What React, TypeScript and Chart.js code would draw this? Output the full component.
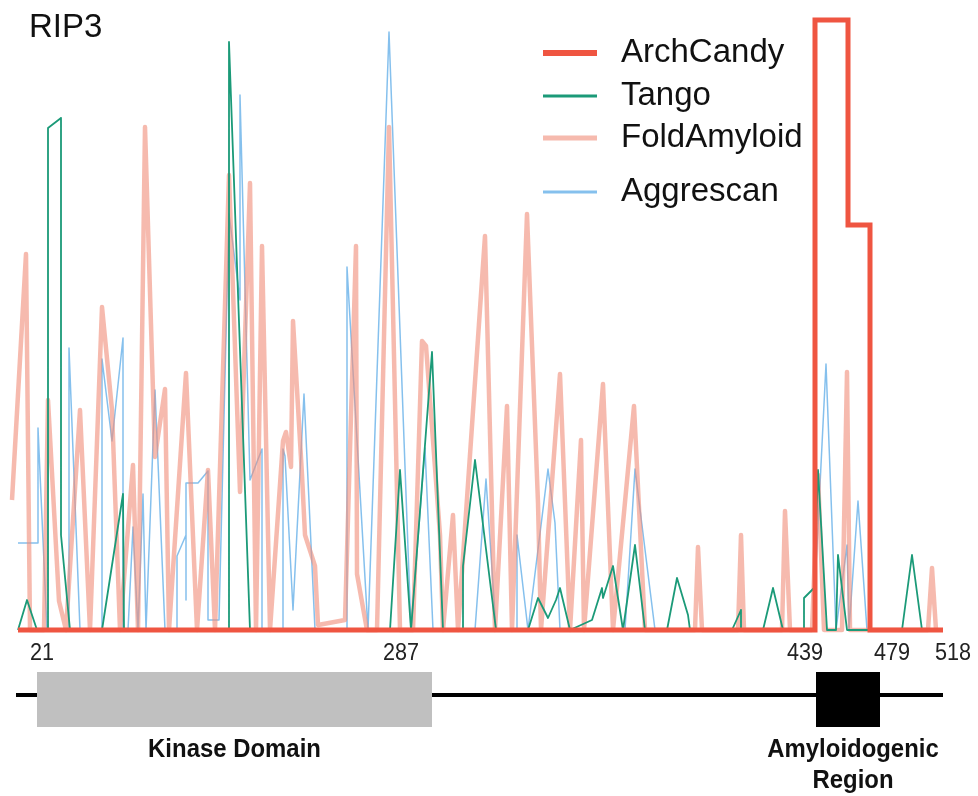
import React, { useEffect, useRef } from "react";
import { Chart, registerables } from "chart.js";

Chart.register(...registerables);

// ---- chart data (x = position along the sequence track, y = prediction score) ----
const PROTEIN = "RIP3";
const TICK_POS = [42, 401, 805, 892, 953];
const TICK_LABELS = ["21", "287", "439", "479", "518"];

const ARCH_POS = [18, 815, 815, 848, 848, 870, 870, 943];
const ARCH_SCORE = [0, 0, 610, 610, 405, 405, 0, 0];

const TANGO_POS = [18, 27, 37, 48, 48, 61, 61, 70, 102, 123, 124, 229, 229, 250, 390, 400, 411, 432, 443, 463, 463, 475, 496, 528, 538, 548, 556, 560, 570, 592, 602, 603, 613, 623, 635, 645, 667, 677, 688, 690, 732, 741, 741, 763, 773, 783, 804, 804, 814, 818, 827, 836, 838, 847, 902, 912, 922, 943];
const TANGO_SCORE = [0, 30, 0, 0, 502, 512, 95, 0, 0, 136, 0, 0, 588, 0, 0, 160, 0, 278, 0, 0, 64, 170, 0, 0, 32, 12, 30, 42, 0, 10, 42, 32, 64, 0, 85, 0, 0, 52, 15, 0, 0, 20, 0, 0, 42, 0, 0, 32, 42, 160, 0, 0, 75, 0, 0, 75, 0, 0];

const FOLD_POS = [12, 26, 30, 44, 48, 59, 66, 80, 90, 102, 112, 120, 133, 138, 145, 155, 165, 169, 186, 197, 208, 215, 229, 240, 250, 256, 262, 270, 283, 286, 291, 293, 302, 305, 315, 318, 345, 356, 357, 367, 377, 389, 400, 413, 422, 426, 440, 443, 453, 458, 485, 495, 507, 512, 527, 538, 541, 560, 570, 581, 584, 603, 613, 634, 645, 695, 698, 702, 738, 741, 744, 782, 785, 790, 812, 818, 824, 842, 847, 850, 928, 932, 936];
const FOLD_SCORE = [130, 376, 0, 0, 230, 29, 0, 220, 0, 323, 220, 0, 165, 0, 503, 173, 241, 0, 257, 0, 160, 0, 455, 138, 447, 0, 384, 0, 189, 198, 163, 309, 155, 95, 64, 5, 10, 384, 56, 0, 0, 503, 0, 0, 289, 284, 95, 0, 115, 0, 394, 0, 224, 0, 416, 127, 0, 256, 0, 190, 0, 246, 0, 224, 0, 0, 83, 0, 0, 95, 0, 0, 119, 0, 0, 155, 0, 0, 258, 0, 0, 62, 0];

const AGGR_POS = [18, 38, 38, 47, 69, 69, 80, 102, 102, 112, 123, 123, 128, 133, 138, 143, 146, 155, 165, 177, 177, 186, 186, 186, 198, 208, 208, 219, 229, 240, 240, 250, 262, 262, 283, 283, 285, 293, 304, 315, 347, 347, 368, 389, 411, 425, 433, 475, 486, 496, 517, 517, 528, 548, 555, 560, 625, 635, 655, 815, 815, 826, 836, 847, 849, 858, 867];
const AGGR_SCORE = [87, 87, 202, 0, 0, 282, 0, 0, 271, 189, 292, 0, 0, 103, 0, 136, 0, 240, 0, 0, 74, 95, 30, 147, 147, 159, 10, 10, 416, 330, 535, 150, 181, 0, 0, 181, 174, 20, 236, 0, 0, 363, 0, 598, 0, 182, 0, 0, 151, 0, 0, 95, 0, 161, 107, 0, 0, 161, 0, 0, 44, 266, 0, 85, 0, 129, 0];

const SERIES_NAMES = ["ArchCandy", "Tango", "FoldAmyloid", "Aggrescan"];

const TRACK_START = 16;
const TRACK_END = 943;
const DOMAIN_LABELS = [["Kinase Domain"], ["Amyloidogenic", "Region"]];
const DOMAIN_START = [37, 816];
const DOMAIN_END = [432, 880];
const DOMAIN_COLORS = ["#c0c0c0", "#000000"];

// ---- styling / layout ----
const SANS = '"Liberation Sans", Arial, sans-serif';

const toPoints = (xs: number[], ys: number[]) => xs.map((x, i) => ({ x, y: ys[i] }));

function squeezedText(ctx: CanvasRenderingContext2D, text: string, x: number, y: number, sx: number) {
  ctx.save();
  ctx.translate(x, y);
  ctx.scale(sx, 1);
  ctx.fillText(text, 0, 0);
  ctx.restore();
}

const decorPlugin = {
  id: "decor",
  afterDraw(chart: any) {
    const ctx = chart.ctx as CanvasRenderingContext2D;
    const xs = chart.scales.x;
    const base = chart.chartArea.bottom;
    ctx.save();

    // protein name
    ctx.fillStyle = "#111";
    ctx.font = `33px ${SANS}`;
    ctx.textAlign = "left";
    ctx.textBaseline = "middle";
    ctx.fillText(PROTEIN, 29, 28);

    // legend
    const rows = [53, 96, 138, 192];
    const legendLineW = [6, 3, 5, 3];
    chart.data.datasets.forEach((ds: any, i: number) => {
      const y = rows[i];
      ctx.beginPath();
      ctx.strokeStyle = ds.borderColor;
      ctx.lineWidth = legendLineW[i];
      ctx.lineCap = "butt";
      ctx.moveTo(543, y);
      ctx.lineTo(597, y);
      ctx.stroke();
      ctx.fillStyle = "#111";
      ctx.font = `33px ${SANS}`;
      ctx.textAlign = "left";
      ctx.textBaseline = "middle";
      ctx.fillText(ds.label, 621, y);
    });

    // tick labels along the track axis
    ctx.fillStyle = "#222";
    ctx.font = `24px ${SANS}`;
    ctx.textAlign = "center";
    ctx.textBaseline = "middle";
    TICK_POS.forEach((p, i) => squeezedText(ctx, TICK_LABELS[i], xs.getPixelForValue(p), base + 23, 0.9));

    // domain track
    const trackY = base + 65;
    ctx.beginPath();
    ctx.strokeStyle = "#000";
    ctx.lineWidth = 4;
    ctx.moveTo(xs.getPixelForValue(TRACK_START), trackY);
    ctx.lineTo(xs.getPixelForValue(TRACK_END), trackY);
    ctx.stroke();
    DOMAIN_START.forEach((s, i) => {
      const x0 = xs.getPixelForValue(s);
      const x1 = xs.getPixelForValue(DOMAIN_END[i]);
      ctx.fillStyle = DOMAIN_COLORS[i];
      ctx.fillRect(x0, base + 42, x1 - x0, 55);
      ctx.fillStyle = "#111";
      ctx.font = `bold 26px ${SANS}`;
      ctx.textAlign = "center";
      ctx.textBaseline = "middle";
      DOMAIN_LABELS[i].forEach((t, k) =>
        squeezedText(ctx, t, (x0 + x1) / 2 + (i === 1 ? 5 : 0), base + 120 + k * 31, 0.92)
      );
    });
    ctx.restore();
  },
};

export default function App() {
  const ref = useRef<HTMLCanvasElement>(null);
  useEffect(() => {
    if (!ref.current) return;
    const chart = new Chart(ref.current, {
      type: "line",
      data: {
        datasets: [
          {
            label: SERIES_NAMES[0],
            data: toPoints(ARCH_POS, ARCH_SCORE),
            borderColor: "#ef5541",
            borderWidth: 5,
            borderJoinStyle: "miter",
            clip: false,
          },
          {
            label: SERIES_NAMES[1],
            data: toPoints(TANGO_POS, TANGO_SCORE),
            borderColor: "#1b9a78",
            borderWidth: 1.8,
            borderJoinStyle: "round",
            clip: false,
          },
          {
            label: SERIES_NAMES[2],
            data: toPoints(FOLD_POS, FOLD_SCORE),
            borderColor: "rgba(240,140,120,0.6)",
            borderWidth: 4.5,
            borderJoinStyle: "round",
            clip: false,
          },
          {
            label: SERIES_NAMES[3],
            data: toPoints(AGGR_POS, AGGR_SCORE),
            borderColor: "rgba(120,185,235,0.9)",
            borderWidth: 1.5,
            borderJoinStyle: "round",
            clip: false,
          },
        ] as any,
      },
      options: {
        animation: false,
        responsive: false,
        layout: { padding: { left: 0, right: 0, top: 20, bottom: 166 } },
        elements: { point: { radius: 0, hoverRadius: 0 }, line: { tension: 0, fill: false } },
        scales: {
          x: { type: "linear", display: false, min: 0, max: 978 },
          y: { display: false, min: 0, max: 610 },
        },
        plugins: { legend: { display: false }, tooltip: { enabled: false } },
      } as any,
      plugins: [decorPlugin],
    });
    return () => chart.destroy();
  }, []);
  return (
    <div style={{ position: "fixed", left: 0, top: 0, width: 978, height: 796, background: "#fff" }}>
      <canvas ref={ref} width={978} height={796} style={{ display: "block" }} />
    </div>
  );
}
